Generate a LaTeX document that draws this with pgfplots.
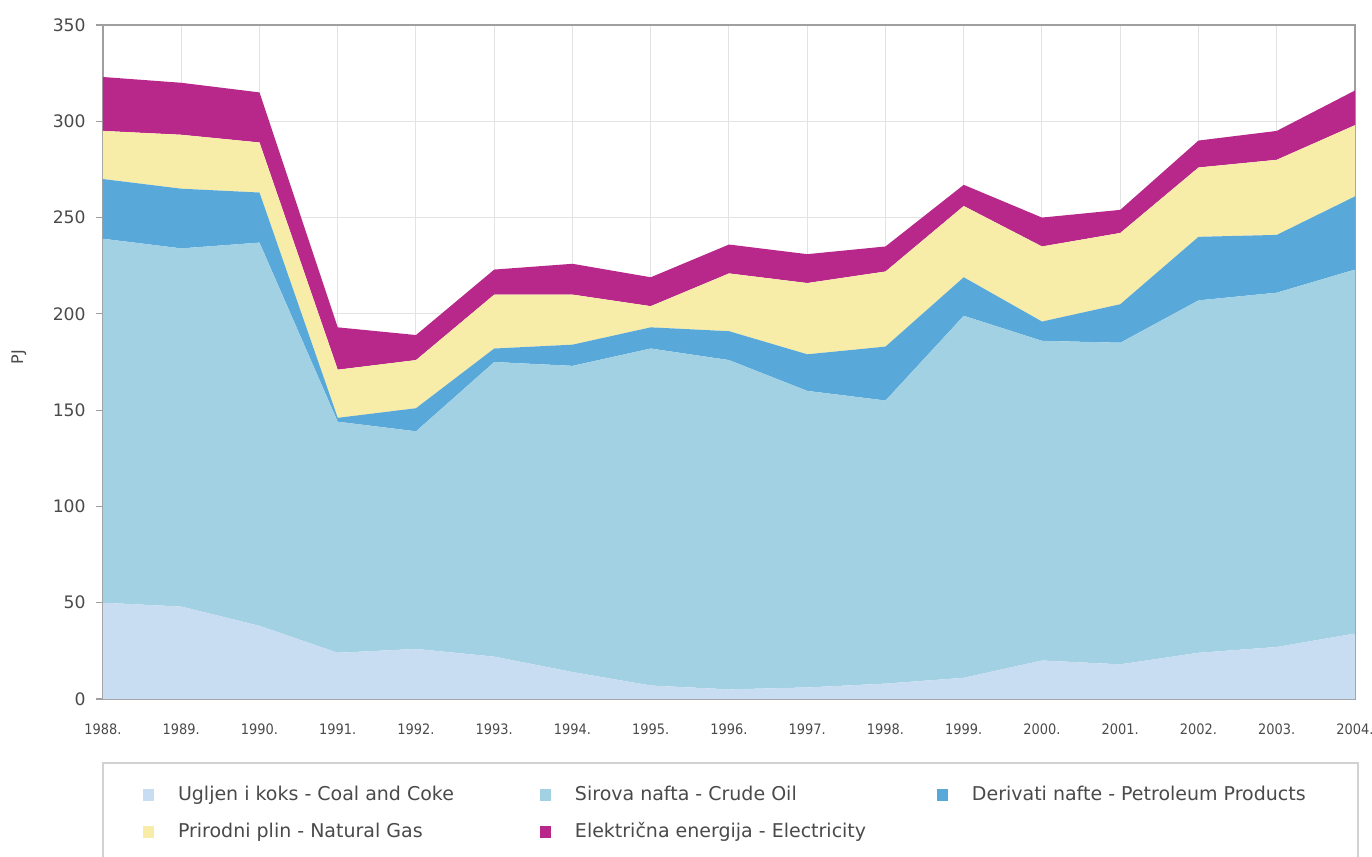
\documentclass[border=0pt]{standalone}
\usepackage{pgfplots}
\usepackage{pgfplotstable}
\pgfplotsset{compat=1.18}
\usepackage{fontspec}
\setmainfont{DejaVu Sans}
\newfontfamily\condfont{DejaVu Sans Condensed}

\definecolor{coal}{HTML}{C8DDF2}
\definecolor{crude}{HTML}{A2D1E3}
\definecolor{petrol}{HTML}{58A8DA}
\definecolor{gas}{HTML}{F7EDA9}
\definecolor{elec}{HTML}{B8288B}
\definecolor{ticktext}{HTML}{4A4A4A}

% Final energy consumption by source, PJ (layer thicknesses, stacked)
\pgfplotstableread{
year coal crude petrol gas elec
1988 50 189 31 25 28
1989 48 186 31 28 27
1990 38 199 26 26 26
1991 24 120  2 25 22
1992 26 113 12 25 13
1993 22 153  7 28 13
1994 14 159 11 26 16
1995  7 175 11 11 15
1996  5 171 15 30 15
1997  6 154 19 37 15
1998  8 147 28 39 13
1999 11 188 20 37 11
2000 20 166 10 39 15
2001 18 167 20 37 12
2002 24 183 33 36 14
2003 27 184 30 39 15
2004 34 189 38 37 18
}\energy

\begin{document}
\begin{tikzpicture}
\useasboundingbox (-51.5pt,-79pt) rectangle (634.5pt,349.5pt);
\begin{axis}[
  at={(0,0)}, anchor=south west,
  scale only axis,
  width=626pt, height=337pt,
  xmin=1988, xmax=2004,
  ymin=0, ymax=350,
  stack plots=y,
  xtick={1988,...,2004},
  xticklabels={1988.,1989.,1990.,1991.,1992.,1993.,1994.,1995.,1996.,1997.,1998.,1999.,2000.,2001.,2002.,2003.,2004.},
  ytick={0,50,...,350},
  grid=major,
  major grid style={draw=gray!22, line width=0.5pt},
  axis line style={draw=gray!75, line width=0.8pt},
  xtick style={draw=none},
  ytick pos=left,
  tick align=outside,
  ytick style={draw=gray!75, line width=0.6pt},
  major tick length=3.5pt,
  /pgf/number format/assume math mode=true,
  yticklabel style={font=\fontsize{8.6}{10}\selectfont, text=ticktext, inner sep=0pt, xshift=-5pt},
  xticklabel style={font=\condfont\fontsize{7.2}{8}\selectfont, text=ticktext, inner sep=0pt, anchor=north, yshift=-8.5pt},
  ylabel={PJ},
  every axis y label/.style={at={(axis description cs:-0.0671,0.507)}, rotate=90, anchor=center, font=\fontsize{8}{9}\selectfont, text=ticktext},
  legend columns=3,
  legend image code/.code={\fill[#1] (0pt,-0.5pt) rectangle (5.5pt,5.5pt);},
  legend style={
    at={(0,0)}, anchor=north west, yshift=-32pt,
    outer sep=0pt, inner xsep=20pt, inner ysep=11.5pt,
    draw=gray!35, line width=0.6pt, fill=white,
    row sep=9.5pt,
    nodes={inner sep=0pt, text height=7pt, text depth=2pt, anchor=base west, font=\fontsize{9.5}{11}\selectfont, text=ticktext},
    /tikz/every odd column/.append style={column sep=12pt},
  },
]
\addplot[fill=coal, draw=none] table[x=year, y=coal] {\energy} \closedcycle;
\addlegendentry{\makebox[181pt][l]{Ugljen i koks - Coal and Coke}}
\addplot[fill=crude, draw=none] table[x=year, y=crude] {\energy} \closedcycle;
\addlegendentry{\makebox[181pt][l]{Sirova nafta - Crude Oil}}
\addplot[fill=petrol, draw=none] table[x=year, y=petrol] {\energy} \closedcycle;
\addlegendentry{\makebox[173pt][l]{Derivati nafte - Petroleum Products}}
\addplot[fill=gas, draw=none] table[x=year, y=gas] {\energy} \closedcycle;
\addlegendentry{\makebox[181pt][l]{Prirodni plin - Natural Gas}}
\addplot[fill=elec, draw=none] table[x=year, y=elec] {\energy} \closedcycle;
\addlegendentry{\makebox[181pt][l]{Električna energija - Electricity}}
\end{axis}
\end{tikzpicture}
\end{document}
